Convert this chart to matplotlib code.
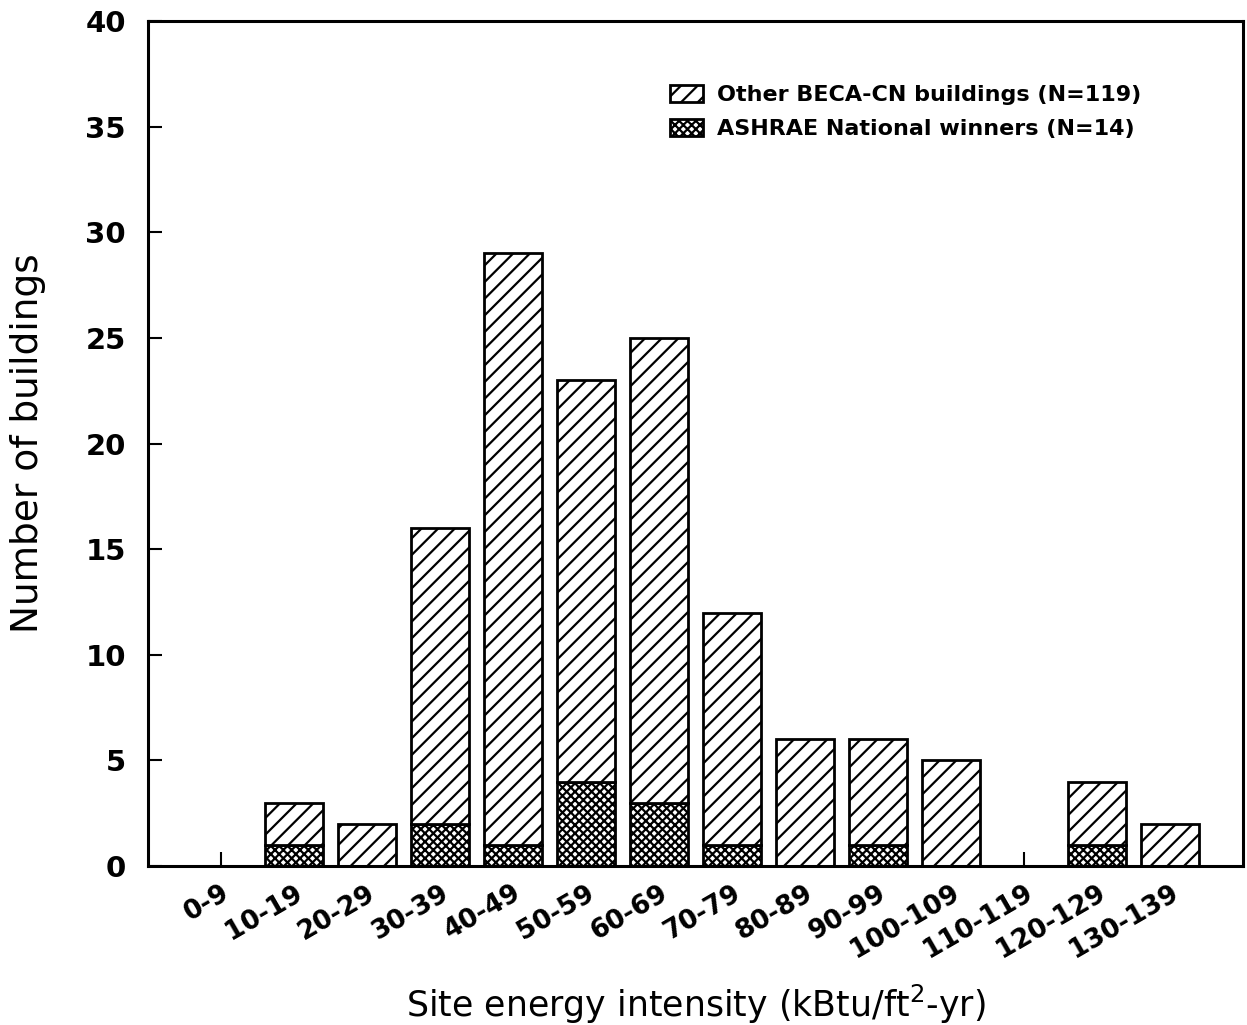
import numpy as np
import matplotlib
matplotlib.use('Agg')
import matplotlib.pyplot as plt

bins = ['0-9', '10-19', '20-29', '30-39', '40-49', '50-59', '60-69',
        '70-79', '80-89', '90-99', '100-109', '110-119', '120-129', '130-139']
ashrae = [0, 1, 0, 2, 1, 4, 3, 1, 0, 1, 0, 0, 1, 0]
other = [0, 2, 2, 14, 28, 19, 22, 11, 6, 5, 5, 0, 3, 2]

plt.rcParams['hatch.linewidth'] = 1.6
fig = plt.figure(figsize=(12.47, 10.25), dpi=100)
ax = fig.add_axes([0.1187, 0.155, 0.878, 0.8245])
ax.set_axisbelow(True)

x = np.arange(len(bins))
w = 0.8
b1 = ax.bar(x, ashrae, w, color='white', edgecolor='black', hatch='xxxx',
            linewidth=2, label='ASHRAE National winners (N=14)')
b2 = ax.bar(x, other, w, bottom=ashrae, color='white', edgecolor='black',
            hatch='//', linewidth=2, label='Other BECA-CN buildings (N=119)')

ax.set_xlim(-1, 14)
ax.set_ylim(0, 40)
ax.set_yticks(range(0, 41, 5))
ax.set_xticks(x)
ax.set_xticklabels(bins, rotation=30, ha='right', rotation_mode='anchor',
                   fontsize=19, fontweight='bold')
for t in ax.get_yticklabels():
    t.set_fontsize(21)
    t.set_fontweight('bold')
ax.tick_params(direction='in', length=10, width=1.5)
ax.tick_params(axis='y', pad=16)
ax.tick_params(axis='x', pad=10)
for s in ax.spines.values():
    s.set_linewidth(2.2)

ax.set_ylabel('Number of buildings', fontsize=27, labelpad=28)
ax.set_xlabel('Site energy intensity (kBtu/ft$^2$-yr)', fontsize=25, labelpad=14)

ax.legend(handles=[b2, b1], loc='upper right', bbox_to_anchor=(0.925, 0.948),
          frameon=False, prop={'weight': 'bold', 'size': 16},
          handlelength=1.5, handleheight=0.8, handletextpad=0.6, labelspacing=0.6)

fig.savefig('out.png', dpi=100)
